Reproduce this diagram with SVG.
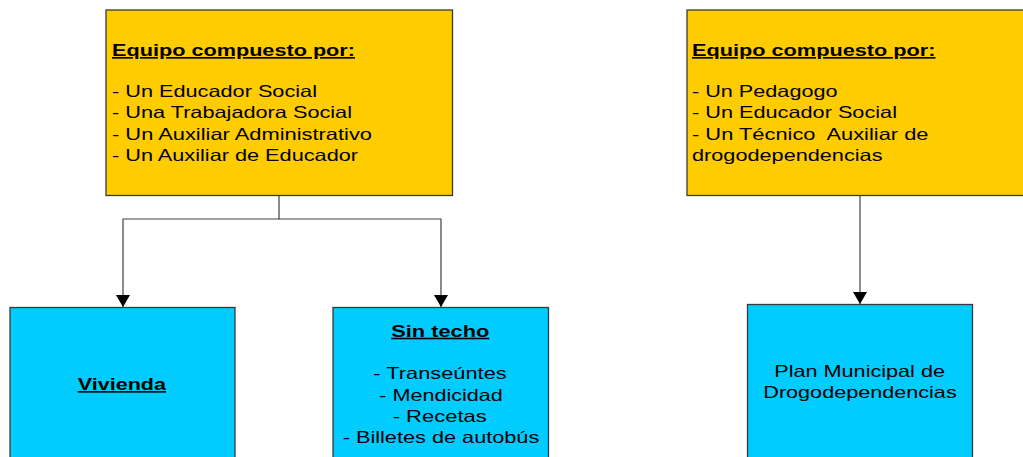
<svg xmlns="http://www.w3.org/2000/svg" width="1023" height="457" viewBox="0 0 1023 457">
  <style>
    .yellow { fill: #FFCC00; stroke: #3a3a3a; stroke-width: 1.3; }
    .cyan { fill: #00CCFF; stroke: #3a3a3a; stroke-width: 1.3; }
    .t { font-family: "Liberation Sans", Arial, sans-serif; font-size: 16.5px; fill: #000; }
    .h { font-weight: bold; text-decoration: underline; }
    .conn { fill: none; stroke: #404040; stroke-width: 1.2; }
  </style>
  <defs>
    <marker id="arrow" viewBox="0 0 12 14" refX="12" refY="7" markerWidth="12" markerHeight="14" markerUnits="userSpaceOnUse" orient="auto">
      <path d="M0,0 L12,7 L0,14 z" fill="#000"/>
    </marker>
  </defs>

  <rect width="1023" height="457" fill="#ffffff"/>

  <g id="connectors">
    <path class="conn" d="M279,196 V219 H123 V307" marker-end="url(#arrow)"/>
    <path class="conn" d="M279,219 H441 V307" marker-end="url(#arrow)"/>
    <path class="conn" d="M860,196 V304" marker-end="url(#arrow)"/>
  </g>

  <g id="equipo-izquierda">
    <rect class="yellow" x="106" y="10" width="346.5" height="185.5"/>
    <text class="t h" x="112" y="56" textLength="243" lengthAdjust="spacingAndGlyphs">Equipo compuesto por:</text>
    <text class="t" x="112" y="97" textLength="205" lengthAdjust="spacingAndGlyphs">- Un Educador Social</text>
    <text class="t" x="112" y="118.3" textLength="240" lengthAdjust="spacingAndGlyphs">- Una Trabajadora Social</text>
    <text class="t" x="112" y="139.6" textLength="260" lengthAdjust="spacingAndGlyphs">- Un Auxiliar Administrativo</text>
    <text class="t" x="112" y="160.9" textLength="246" lengthAdjust="spacingAndGlyphs">- Un Auxiliar de Educador</text>
  </g>

  <g id="equipo-derecha">
    <rect class="yellow" x="687" y="10" width="345" height="185.5"/>
    <text class="t h" x="692" y="56" textLength="243.5" lengthAdjust="spacingAndGlyphs">Equipo compuesto por:</text>
    <text class="t" x="692" y="97" textLength="145.5" lengthAdjust="spacingAndGlyphs">- Un Pedagogo</text>
    <text class="t" x="692" y="118.3" textLength="205" lengthAdjust="spacingAndGlyphs">- Un Educador Social</text>
    <text class="t" x="692" y="139.6" textLength="236.5" lengthAdjust="spacingAndGlyphs" xml:space="preserve">- Un Técnico  Auxiliar de</text>
    <text class="t" x="692" y="160.9" textLength="190.5" lengthAdjust="spacingAndGlyphs">drogodependencias</text>
  </g>

  <g id="vivienda">
    <rect class="cyan" x="10" y="307.5" width="225" height="160"/>
    <text class="t h" x="77.7" y="390" textLength="88.3" lengthAdjust="spacingAndGlyphs">Vivienda</text>
  </g>

  <g id="sin-techo">
    <rect class="cyan" x="333" y="307.5" width="215.5" height="160"/>
    <text class="t h" x="391.3" y="336.7" textLength="98" lengthAdjust="spacingAndGlyphs">Sin techo</text>
    <text class="t" x="373.3" y="379" textLength="133.4" lengthAdjust="spacingAndGlyphs">- Transeúntes</text>
    <text class="t" x="379.3" y="400.5" textLength="123.4" lengthAdjust="spacingAndGlyphs">- Mendicidad</text>
    <text class="t" x="392.7" y="421.7" textLength="94" lengthAdjust="spacingAndGlyphs">- Recetas</text>
    <text class="t" x="342.7" y="442.7" textLength="196.6" lengthAdjust="spacingAndGlyphs">- Billetes de autobús</text>
  </g>

  <g id="plan-municipal">
    <rect class="cyan" x="747.5" y="304.5" width="225" height="165"/>
    <text class="t" x="774.3" y="376.7" textLength="170.7" lengthAdjust="spacingAndGlyphs">Plan Municipal de</text>
    <text class="t" x="763.3" y="397.5" textLength="193.4" lengthAdjust="spacingAndGlyphs">Drogodependencias</text>
  </g>
</svg>
